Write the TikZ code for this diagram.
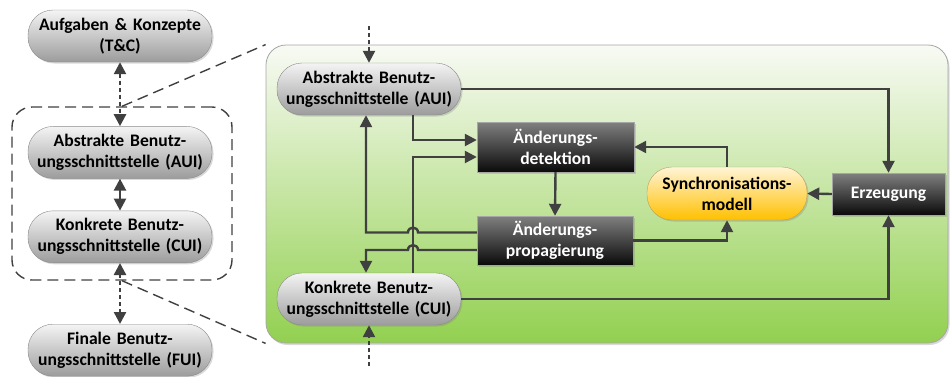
\documentclass[tikz,border=0pt]{standalone}
\usepackage{fontspec}
\setmainfont{Carlito}
\usepackage{xcolor}
\usetikzlibrary{arrows.meta,shadows,positioning}

\definecolor{lineclr}{HTML}{404040}
\definecolor{pilltop}{HTML}{F4F4F4}
\definecolor{pillbot}{HTML}{9C9C9C}
\definecolor{pillrim}{HTML}{8A8A8A}
\definecolor{boxtop}{HTML}{808080}
\definecolor{boxbot}{HTML}{0A0A0A}
\definecolor{boxrim}{HTML}{A6A6A6}
\definecolor{synctop}{HTML}{FFF4D6}
\definecolor{syncbot}{HTML}{FFC000}
\definecolor{syncrim}{HTML}{B8A060}
\definecolor{paneltop}{HTML}{F8FAF4}
\definecolor{panelbot}{HTML}{92D050}

\begin{document}
\begin{tikzpicture}[
    x=1pt, y=-1pt,
    node distance=32pt,
    pill/.style={rectangle, rounded corners=25pt, draw=pillrim, top color=pilltop, bottom color=pillbot, text width=182pt, align=center, minimum width=184pt, minimum height=52pt, inner sep=0pt, font=\fontsize{17.6}{21}\selectfont\bfseries, drop shadow={shadow xshift=1.5pt, shadow yshift=-1.5pt, opacity=0.3}},
    darkbox/.style={rectangle, draw=boxrim, top color=boxtop, bottom color=boxbot, text=white, align=center, inner sep=0pt, font=\fontsize{17.6}{21}\selectfont\bfseries, drop shadow={shadow xshift=1.5pt, shadow yshift=-1.5pt, opacity=0.3}},
    tip/.tip={Triangle[length=12pt,width=12pt]},
    flow/.style={draw=lineclr, line width=2.4pt, -tip},
    dotflow/.style={flow, dash pattern=on 4pt off 3pt},
    zoomline/.style={draw=lineclr, line width=1.4pt, dash pattern=on 11pt off 6pt}
]
\useasboundingbox (0,0) rectangle (950,376);

% Left column: levels
\node[pill] (tc) at (120,36) {Aufgaben \& Konzepte\\(T\&C)};
\node[pill, below=64pt of tc] (aui1) {Abstrakte Benutz-\\ungsschnittstelle (AUI)};
\node[pill, below=of aui1] (cui1) {Konkrete Benutz-\\ungsschnittstelle (CUI)};
\node[pill, below=61pt of cui1] (fui) {Finale Benutz-\\ungsschnittstelle (FUI)};
\node[rectangle, rounded corners=20pt, zoomline, minimum width=220pt, minimum height=173pt] (grp) at (122,193.5) {};

\draw[dotflow, tip-tip] (tc) -- (aui1);
\draw[flow, tip-tip] (aui1) -- (cui1);
\draw[dotflow, tip-tip] (cui1) -- (fui);

% Detail panel
\node[rectangle, rounded corners=20pt, draw=boxrim, line width=0.8pt, top color=paneltop, bottom color=panelbot, minimum width=682pt, minimum height=298pt, drop shadow={shadow xshift=1.5pt, shadow yshift=-2pt, opacity=0.3}] (panel) at (607,194) {};
\draw[zoomline] (grp.north) -- (panel.north west);
\draw[zoomline] (grp.south) -- (panel.south west);

\node[pill] (aui2) at (369,89) {Abstrakte Benutz-\\ungsschnittstelle (AUI)};
\node[pill] (cui2) at (369,299) {Konkrete Benutz-\\ungsschnittstelle (CUI)};
\node[darkbox, minimum width=157pt, minimum height=50pt] (det) at (555.5,147) {Änderungs-\\detektion};
\node[darkbox, minimum width=156pt, minimum height=49pt] (prop) at (555,240.5) {Änderungs-\\propagierung};
\node[pill, top color=synctop, bottom color=syncbot, draw=syncrim, minimum width=160pt, text width=158pt, minimum height=53pt] (sync) at (727,193.5) {Synchronisations-\\modell};
\node[darkbox, minimum width=113pt, minimum height=42pt] (erz) at (888.5,194) {Erzeugung};

\coordinate (intop) at (369,26);
\coordinate (inbot) at (369,366);

% Connections
\draw[dotflow] (intop) -- (aui2.north);
\draw[dotflow] (inbot) -- (cui2.south);
\draw[flow] (aui2.east) -| (erz.north);
\draw[flow] ([xshift=44pt]aui2.south) |- ([yshift=7pt]det.west);
\draw[flow] ([xshift=44pt]cui2.north) |- ([yshift=-10pt]det.west);
\draw[flow] ([yshift=8pt]prop.west) -- (418,232.5) .. controls (418,226) and (408,226) .. (408,232.5) -| ([xshift=-3pt]aui2.south);
\draw[flow] ([yshift=-9.5pt]prop.west) -- (418,250) .. controls (418,243.5) and (408,243.5) .. (408,250) -| ([xshift=-3pt]cui2.north);
\draw[flow] (det.south) -- (prop.north);
\draw[flow] (prop.east) -| (sync.south);
\draw[flow] (sync.north) |- (det.east);
\draw[flow] (erz.west) -- (sync.east);
\draw[flow] (cui2.east) -| (erz.south);

\end{tikzpicture}
\end{document}
